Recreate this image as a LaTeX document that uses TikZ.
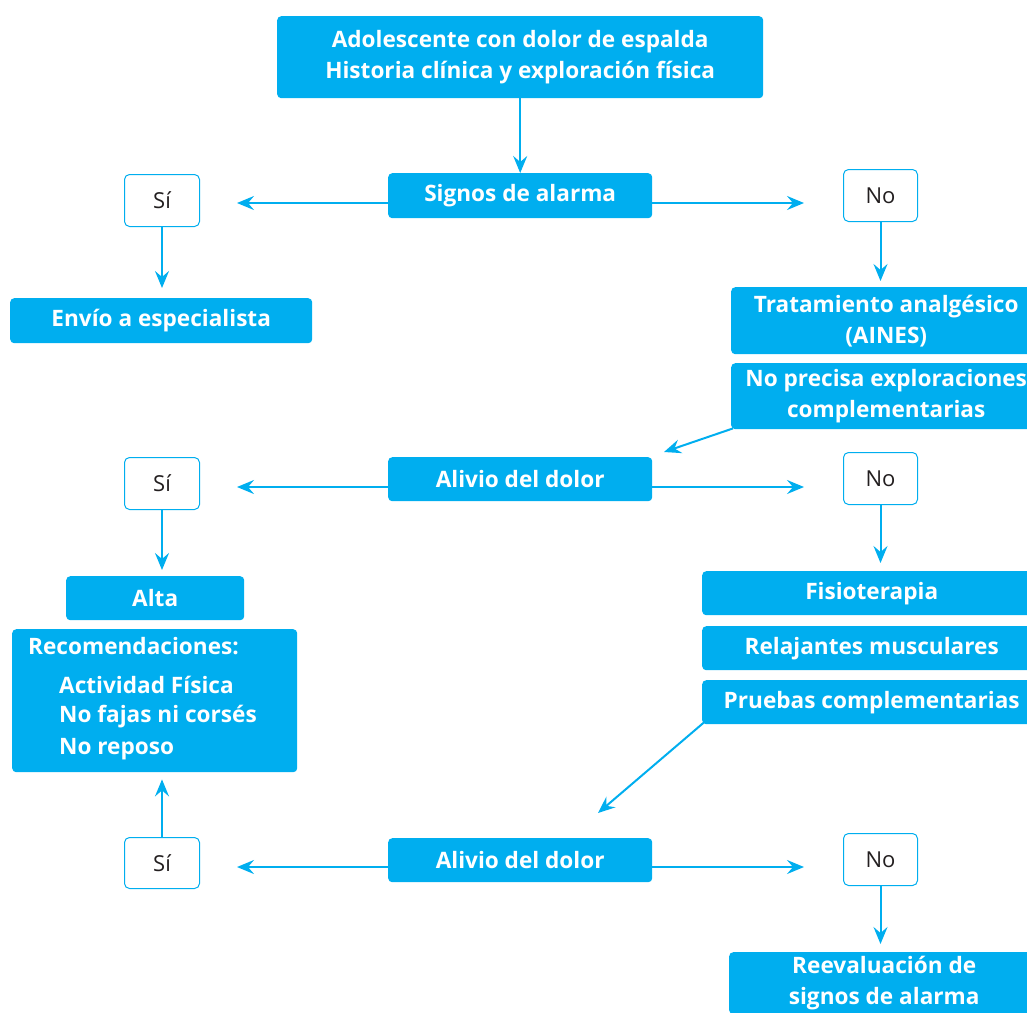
\documentclass[tikz,border=0pt]{standalone}
\usepackage{fontspec}
\setmainfont{Open Sans}
\usetikzlibrary{arrows.meta}
\definecolor{cy}{HTML}{00AEEF}
\definecolor{tx}{HTML}{231F20}
\begin{document}
\begin{tikzpicture}[x=1pt,y=-1pt,
  box/.style={fill=cy, rounded corners=4pt, text=white,
    font=\bfseries\fontsize{22.6}{31}\selectfont, align=center,
    inner sep=0pt, anchor=north west},
  lbl/.style={text=white, font=\bfseries\fontsize{22.6}{31}\selectfont,
    inner sep=0pt, anchor=west},
  yn/.style={draw=cy, line width=1pt, fill=white, rounded corners=5pt,
    text=tx, font=\fontsize{22}{26}\selectfont, inner sep=0pt,
    anchor=north west},
  arr/.style={draw=cy, line width=2pt,
    -{Stealth[length=17pt,width=14pt,inset=6pt]}}
]
\useasboundingbox (0,0) rectangle (1027,1012);

% main boxes
\node[box, minimum width=486, minimum height=82] (top) at (277,16)
  {Adolescente con dolor de espalda\\Historia clínica y exploración física};
\node[box, minimum width=264, minimum height=45] (sig) at (388,173) {Signos de alarma};
\node[yn, minimum width=75, minimum height=52] (s1) at (124,174) {Sí};
\node[yn, minimum width=74, minimum height=52] (n1) at (843,169) {No};
\node[box, minimum width=302, minimum height=45] (env) at (10,298) {Envío a especialista};
\node[box, minimum width=310, minimum height=67] (trat) at (731,287)
  {Tratamiento analgésico\\(AINES)};
\node[box, minimum width=310, minimum height=66] (nprec) at (731,363)
  {No precisa exploraciones\\complementarias};

\node[box, minimum width=264, minimum height=44] (al1) at (388,457) {Alivio del dolor};
\node[yn, minimum width=75, minimum height=52] (s2) at (124,457) {Sí};
\node[yn, minimum width=74, minimum height=52] (n2) at (843,452) {No};
\node[box, minimum width=178, minimum height=44] (alta) at (66,576) {Alta};
\node[box, minimum width=285, minimum height=143] (rec) at (12,629) {};
\node[lbl] (rec0) at (28,646) {Recomendaciones:};
\node[lbl] (rec1) at (59,685) {Actividad Física};
\node[lbl] (rec2) at (59,717) {No fajas ni corsés};
\node[lbl] (rec3) at (59,749) {No reposo};
\node[box, minimum width=339, minimum height=44] (fis) at (702,571) {Fisioterapia};
\node[box, minimum width=339, minimum height=44] (rel) at (702,626) {Relajantes musculares};
\node[box, minimum width=339, minimum height=44] (pru) at (702,680) {Pruebas complementarias};

\node[box, minimum width=264, minimum height=44] (al2) at (388,838) {Alivio del dolor};
\node[yn, minimum width=75, minimum height=51] (s3) at (124,837) {Sí};
\node[yn, minimum width=74, minimum height=52] (n3) at (843,833) {No};
\node[box, minimum width=310, minimum height=62] (reev) at (729,952)
  {Reevaluación de\\signos de alarma};

% free ends
\coordinate (e1l) at (237,203);
\coordinate (e1r) at (804,203);
\coordinate (e2l) at (237,487);
\coordinate (e2r) at (804,487);
\coordinate (e3l) at (237,867);
\coordinate (e3r) at (804,867);
\coordinate (d1) at (664,452);
\coordinate (d2) at (598,813);

% connectors
\draw[arr] (top.south) -- (sig.north);
\draw[arr] (sig.west |- e1l) -- (e1l);
\draw[arr] (sig.east |- e1r) -- (e1r);
\draw[arr, shorten >=10pt] (s1.south) -- (s1.south |- env.north);
\draw[arr, shorten >=6pt] (n1.south) -- (n1.south |- trat.north);
\draw[arr] ([shift={(2pt,1pt)}]nprec.south west) -- (d1);

\draw[arr] (al1.west |- e2l) -- (e2l);
\draw[arr] (al1.east |- e2r) -- (e2r);
\draw[arr, shorten >=6pt] (s2.south) -- (s2.south |- alta.north);
\draw[arr, shorten >=8pt] (n2.south) -- (n2.south |- fis.north);
\draw[arr] ([shift={(2pt,2pt)}]pru.south west) -- (d2);

\draw[arr] (al2.west |- e3l) -- (e3l);
\draw[arr] (al2.east |- e3r) -- (e3r);
\draw[arr, shorten >=7pt] (s3.north) -- (s3.north |- rec.south);
\draw[arr, shorten >=8pt] (n3.south) -- (n3.south |- reev.north);
\end{tikzpicture}
\end{document}
